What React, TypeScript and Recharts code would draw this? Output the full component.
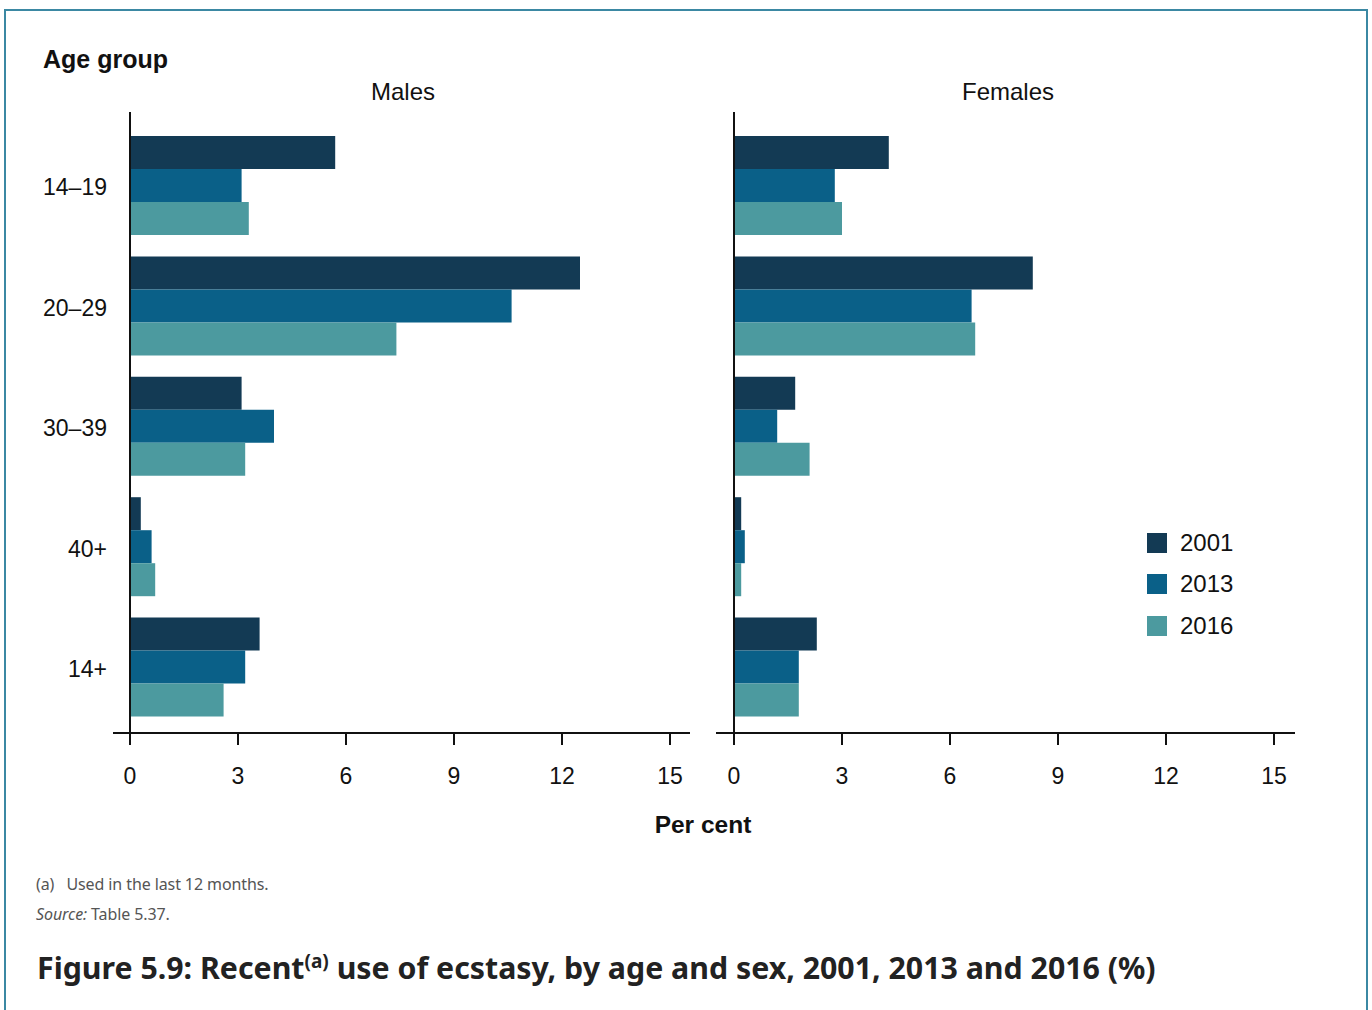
import React from "react";
import { BarChart, Bar, XAxis, YAxis, ReferenceLine } from "recharts";

// age groups down the y axis
const ageGroups = ["14–19", "20–29", "30–39", "40+", "14+"];
const years = ["2001", "2013", "2016"];
const colors = ["#133a54", "#0a6088", "#4c9a9f"];
const xTicks = [0, 3, 6, 9, 12, 15];

// per cent
const males2001 = [5.7, 12.5, 3.1, 0.3, 3.6];
const males2013 = [3.1, 10.6, 4.0, 0.6, 3.2];
const males2016 = [3.3, 7.4, 3.2, 0.7, 2.6];

const females2001 = [4.3, 8.3, 1.7, 0.2, 2.3];
const females2013 = [2.8, 6.6, 1.2, 0.3, 1.8];
const females2016 = [3.0, 6.7, 2.1, 0.2, 1.8];

const maleData = ageGroups.map((age, i) => ({
  age,
  "2001": males2001[i],
  "2013": males2013[i],
  "2016": males2016[i],
}));
const femaleData = ageGroups.map((age, i) => ({
  age,
  "2001": females2001[i],
  "2013": females2013[i],
  "2016": females2016[i],
}));

const FONT = "'Liberation Sans', Arial, sans-serif";

function Panel({
  data,
  width,
  margin,
  showAges,
}: {
  data: any[];
  width: number;
  margin: { top: number; left: number; right: number; bottom: number };
  showAges: boolean;
}) {
  return (
    <BarChart
      layout="vertical"
      width={width}
      height={800}
      data={data}
      margin={margin}
      barSize={33}
      barGap={0}
    >
      <XAxis
        type="number"
        domain={[0, 15]}
        ticks={xTicks}
        padding={{ left: showAges ? 17 : 18, right: showAges ? 20 : 21 }}
        height={60}
        axisLine={{ stroke: "#111", strokeWidth: 2 }}
        tickLine={{ stroke: "#111", strokeWidth: 2 }}
        tickSize={12}
        tickMargin={23}
        tick={{ fill: "#111", fontSize: 23, fontFamily: FONT }}
        interval={0}
      />
      <YAxis
        type="category"
        dataKey="age"
        hide={!showAges}
        width={100}
        padding={{ top: 13, bottom: 6 }}
        axisLine={false}
        tickLine={false}
        tickSize={0}
        tickMargin={6}
        tick={{ fill: "#111", fontSize: 23, fontFamily: FONT, dy: 2 }}
      />
      {years.map((y, i) => (
        <Bar key={y} dataKey={y} fill={colors[i]} isAnimationActive={false} />
      ))}
      <ReferenceLine x={0} stroke="#111" strokeWidth={2} />
    </BarChart>
  );
}

export default function App() {
  return (
    <div
      style={{
        position: "absolute",
        left: 0,
        top: 0,
        width: 1372,
        height: 1010,
        overflow: "hidden",
        background: "#fff",
        fontFamily: FONT,
      }}
    >
      <div
        style={{
          position: "absolute",
          left: 4,
          top: 9,
          width: 1360,
          height: 1100,
          border: "2px solid #3b88a3",
        }}
      />
      <div style={{ position: "absolute", left: 43, top: 45, fontSize: 25, fontWeight: "bold", color: "#111" }}>
        Age group
      </div>
      <div style={{ position: "absolute", left: 303, width: 200, textAlign: "center", top: 78, fontSize: 24, color: "#111" }}>
        Males
      </div>
      <div style={{ position: "absolute", left: 908, width: 200, textAlign: "center", top: 78, fontSize: 24, color: "#111" }}>
        Females
      </div>

      <div style={{ position: "absolute", left: 0, top: 0 }}>
        <Panel data={maleData} width={700} margin={{ top: 112, left: 13, right: 10, bottom: 7 }} showAges />
      </div>
      <div style={{ position: "absolute", left: 700, top: 0 }}>
        <Panel data={femaleData} width={620} margin={{ top: 112, left: 16, right: 25, bottom: 7 }} showAges={false} />
      </div>

      {/* legend */}
      <div style={{ position: "absolute", left: 1147, top: 522 }}>
        {years.map((y, i) => (
          <div key={y} style={{ display: "flex", alignItems: "center", height: 41.5 }}>
            <div style={{ width: 20, height: 20, background: colors[i], marginRight: 13 }} />
            <span style={{ fontSize: 24, color: "#111" }}>{y}</span>
          </div>
        ))}
      </div>

      <div style={{ position: "absolute", left: 603, width: 200, textAlign: "center", top: 811, fontSize: 24.5, fontWeight: "bold", color: "#111" }}>
        Per cent
      </div>

      <div style={{ position: "absolute", left: 36, top: 873, fontSize: 16, color: "#555", fontFamily: "'Noto Sans', sans-serif", letterSpacing: -0.1 }}>
        (a)&nbsp;&nbsp; Used in the last 12 months.
      </div>
      <div style={{ position: "absolute", left: 36, top: 903, fontSize: 16, color: "#555", fontFamily: "'Noto Sans', sans-serif", letterSpacing: -0.1 }}>
        <i>Source:</i> Table 5.37.
      </div>
      <div
        style={{
          position: "absolute",
          left: 37,
          top: 947,
          fontSize: 30.3,
          fontWeight: "bold",
          color: "#222",
          fontFamily: "'Noto Sans', sans-serif",
          whiteSpace: "nowrap",
        }}
      >
        Figure 5.9: Recent<sup style={{ fontSize: 19 }}>(a)</sup> use of ecstasy, by age and sex, 2001, 2013 and 2016 (%)
      </div>
    </div>
  );
}
